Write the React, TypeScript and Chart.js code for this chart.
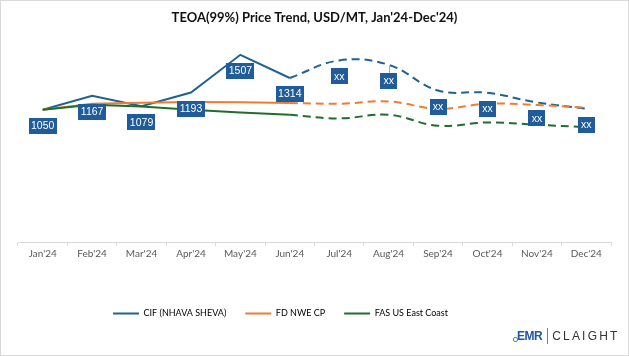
import React, { useEffect, useRef } from "react";
import { Chart, registerables } from "chart.js";

Chart.register(...registerables);

const months = ["Jan'24", "Feb'24", "Mar'24", "Apr'24", "May'24", "Jun'24", "Jul'24", "Aug'24", "Sep'24", "Oct'24", "Nov'24", "Dec'24"];
const seriesNames = ["CIF (NHAVA SHEVA)", "FD NWE CP", "FAS US East Coast"];
const seriesColors = ["#1F6390", "#ED7D31", "#1F6E2A"];

const cifActual = [1050, 1167, 1079, 1193, 1507, 1314];
const cifForecast = [1460, 1424, 1210, 1191, 1111, 1058];
const nweActual = [1050, 1100, 1108, 1114, 1112, 1106];
const nweForecast = [1100, 1119, 1058, 1100, 1089, 1067];
const usActual = [1050, 1092, 1077, 1050, 1028, 1008];
const usForecast = [978, 1008, 917, 944, 925, 905];

const forecastLabel = "xx";
const leaderIndexes = [7];

const FONT = "Lato, 'Liberation Sans', Arial, sans-serif";
const LABEL_FONT = "'Liberation Sans', Arial, sans-serif";
const LABEL_BG = "#1F5C99";
const LEGEND_SHIFT = -34;

function solidData(actual: number[]) {
  return [...actual, ...months.slice(actual.length).map(() => null)];
}
function dashedData(actual: number[], forecast: number[]) {
  return [...actual.slice(0, actual.length - 1).map(() => null), actual[actual.length - 1], ...forecast];
}

const legendShiftPlugin = {
  id: "legendShift",
  afterLayout(chart: any) {
    const lg = chart.legend;
    if (lg) {
      lg.left += LEGEND_SHIFT;
      lg.right += LEGEND_SHIFT;
    }
  },
};

const labelPlugin = {
  id: "boxLabels",
  afterDatasetsDraw(chart: any) {
    const ctx = chart.ctx;
    const solid = chart.getDatasetMeta(0).data;
    const dashed = chart.getDatasetMeta(1).data;
    ctx.save();
    ctx.font = `10.5px ${LABEL_FONT}`;
    months.forEach((_m, i) => {
      const isActual = i < cifActual.length;
      const pt = isActual ? solid[i] : dashed[i];
      if (!pt) return;
      const text = isActual ? String(cifActual[i]) : forecastLabel;
      const w = Math.max(ctx.measureText(text).width + 5, 17);
      const h = 16;
      const cx = pt.x;
      const cy = pt.y + 16;
      if (leaderIndexes.includes(i)) {
        ctx.strokeStyle = "#A6A6A6";
        ctx.lineWidth = 1;
        ctx.beginPath();
        ctx.moveTo(Math.round(cx) + 0.5, pt.y + 1);
        ctx.lineTo(Math.round(cx) + 0.5, cy - h / 2);
        ctx.stroke();
      }
      ctx.fillStyle = LABEL_BG;
      ctx.fillRect(Math.round(cx - w / 2), Math.round(cy - h / 2), Math.round(w), h);
      ctx.fillStyle = "#FFFFFF";
      ctx.textAlign = "center";
      ctx.textBaseline = "middle";
      ctx.fillText(text, cx, cy + 0.5);
    });
    ctx.restore();
  },
};

export default function App() {
  const canvasRef = useRef<HTMLCanvasElement | null>(null);

  useEffect(() => {
    const canvas = canvasRef.current;
    if (!canvas) return;
    const actuals = [cifActual, nweActual, usActual];
    const forecasts = [cifForecast, nweForecast, usForecast];
    const datasets: any[] = [];
    seriesNames.forEach((name, s) => {
      datasets.push({
        label: name,
        data: solidData(actuals[s]),
        borderColor: seriesColors[s],
        backgroundColor: seriesColors[s],
        borderWidth: 2,
        pointRadius: 0,
        tension: 0,
        order: 3 - s,
      });
      datasets.push({
        label: name + " forecast",
        data: dashedData(actuals[s], forecasts[s]),
        borderColor: seriesColors[s],
        backgroundColor: seriesColors[s],
        borderWidth: 2,
        borderDash: [8, 5],
        pointRadius: 0,
        tension: 0.4,
        order: 3 - s,
      });
    });

    const chart = new Chart(canvas, {
      type: "line",
      data: { labels: months, datasets },
      plugins: [labelPlugin, legendShiftPlugin],
      options: {
        responsive: false,
        animation: false,
        devicePixelRatio: 1,
        layout: { padding: { left: 18, right: 18, top: 0, bottom: 28 } },
        plugins: {
          title: {
            display: true,
            text: "TEOA(99%) Price Trend, USD/MT, Jan'24-Dec'24)",
            color: "#111111",
            font: { family: FONT, size: 13, weight: "bold" },
            padding: { top: 10, bottom: 12 },
          },
          legend: {
            display: true,
            position: "bottom",
            labels: {
              boxWidth: 26,
              boxHeight: 2,
              padding: 19,
              color: "#404040",
              font: { family: FONT, size: 9 },
              generateLabels: () =>
                seriesNames.map((name, s) => ({
                  text: name,
                  fillStyle: seriesColors[s],
                  strokeStyle: seriesColors[s],
                  lineWidth: 0,
                  hidden: false,
                  datasetIndex: s * 2,
                })),
            },
          },
          tooltip: { enabled: false },
        },
        scales: {
          x: {
            offset: true,
            grid: {
              display: true,
              drawOnChartArea: false,
              drawTicks: true,
              tickLength: 4,
              color: "#D9D9D9",
              offset: true,
            },
            border: { display: true, color: "#D9D9D9" },
            ticks: {
              color: "#595959",
              padding: 2,
              maxRotation: 0,
              autoSkip: false,
              font: { family: FONT, size: 10 },
            },
            afterFit: (scale: any) => {
              scale.height = 48;
            },
          },
          y: {
            display: false,
            min: -50,
            max: 1650,
          },
        },
      },
    });
    return () => chart.destroy();
  }, []);

  return (
    <div style={{ position: "fixed", left: 0, top: 0, width: 629, height: 356, background: "#FFFFFF", overflow: "hidden" }}>
      <canvas ref={canvasRef} width={629} height={356} style={{ position: "absolute", left: 0, top: 0, width: 629, height: 356 }} />
      <div style={{ position: "absolute", left: 0, top: 0, width: 629, height: 356, boxSizing: "border-box", border: "1px solid #D9D9D9", pointerEvents: "none" }} />
      <div style={{ position: "absolute", left: 517, top: 327, height: 18, display: "flex", alignItems: "center", fontFamily: "'Liberation Sans', Arial, sans-serif", whiteSpace: "nowrap" }}>
        <span style={{ color: "#1F57A4", fontWeight: "bold", fontSize: 12, letterSpacing: -0.5, position: "relative" }}>
          <span style={{ position: "absolute", left: -4, bottom: 1, width: 3, height: 3, borderRadius: 2, border: "1px solid #2E8BD8" }} />
          EMR
        </span>
        <span style={{ display: "inline-block", width: 1, height: 16, background: "#7F7F7F", margin: "0 4px 0 5px" }} />
        <span style={{ color: "#333333", fontSize: 12, letterSpacing: 2.2 }}>CLAIGHT</span>
      </div>
    </div>
  );
}
